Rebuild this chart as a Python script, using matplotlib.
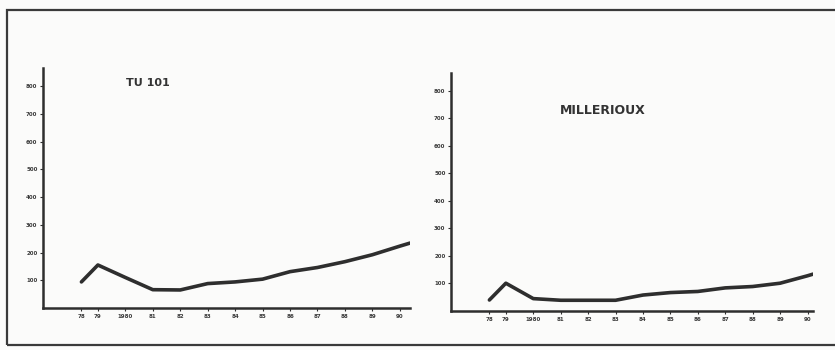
import matplotlib
matplotlib.use("Agg")
import matplotlib.pyplot as plt
from matplotlib.patches import Rectangle

# Category positions along the time axis (first two readings are close together)
x_pos = [-0.6, 0, 1, 2, 3, 4, 5, 6, 7, 8, 9, 10, 11]
x_labels = ["78", "79", "1980", "81", "82", "83", "84", "85", "86", "87", "88", "89", "90"]

# Trend continues slightly past the last labelled reading
x_end_tu = 11.37
x_end_mil = 11.2

tu101 = [94, 155, 110, 66, 65, 88, 94, 104, 131, 146, 167, 192, 223]
tu101_end = 234

millerioux = [40, 101, 45, 39, 39, 39, 58, 67, 71, 84, 89, 101, 128]
millerioux_end = 134

y_ticks = [100, 200, 300, 400, 500, 600, 700, 800]
y_labels = ["100", "200", "300", "400", "500", "600", "700", "800"]

ink = "#2e2e2e"

fig = plt.figure(figsize=(8.35, 3.5), dpi=100)
fig.patch.set_facecolor("#fbfbfa")

# Outer frame around both panels
fig.add_artist(Rectangle((7 / 835, 5 / 350), 840 / 835, 335 / 350,
                         transform=fig.transFigure, fill=False,
                         edgecolor="#3a3a3a", linewidth=1.6))


def panel(rect, xs, ys, x_end, y_end, title, title_xy, xmax, title_size):
    ax = fig.add_axes(rect)
    ax.set_facecolor("none")
    ax.plot(list(xs) + [x_end], list(ys) + [y_end], color=ink,
            linewidth=2.6, solid_capstyle="round", solid_joinstyle="round")
    ax.set_xlim(-2.0, xmax)
    ax.set_ylim(0, 865)
    for side in ("top", "right"):
        ax.spines[side].set_visible(False)
    for side in ("left", "bottom"):
        ax.spines[side].set_linewidth(1.8)
        ax.spines[side].set_color(ink)
    ax.set_xticks(xs)
    ax.set_xticklabels(x_labels, fontsize=4, fontweight="bold", color="#3a3a3a")
    ax.set_yticks(y_ticks)
    ax.set_yticklabels(y_labels, fontsize=4, fontweight="bold", color="#3a3a3a")
    ax.tick_params(axis="both", length=2, width=0.8, color=ink, pad=2)
    ax.text(title_xy[0], title_xy[1], title, transform=fig.transFigure,
            fontsize=title_size, fontweight="bold", color="#333333",
            ha="center", va="center", family="DejaVu Sans")
    return ax


panel([43 / 835, 1 - 308 / 350, 367 / 835, 240 / 350], x_pos, tu101,
      x_end_tu, tu101_end, "TU 101", (148 / 835, 1 - 83 / 350), 11.37, 8)
panel([451 / 835, 1 - 311 / 350, 362 / 835, 238 / 350], x_pos, millerioux,
      x_end_mil, millerioux_end, "MILLERIOUX", (603 / 835, 1 - 110 / 350), 11.2, 9)

fig.savefig("out.png", dpi=100, facecolor=fig.get_facecolor())
